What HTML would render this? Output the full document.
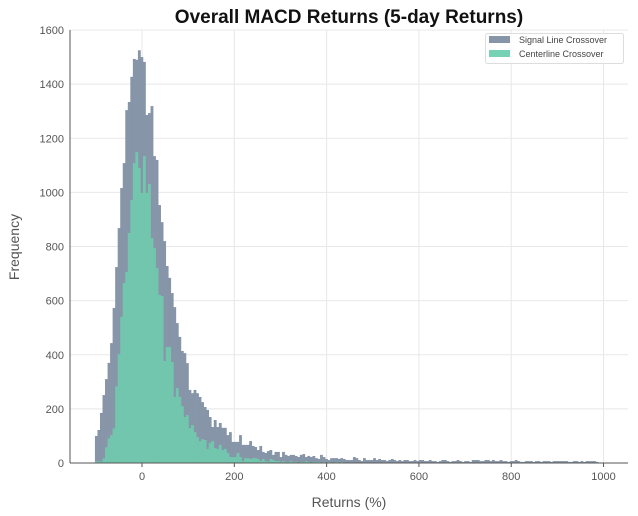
<!DOCTYPE html>
<html><head><meta charset="utf-8"><style>
html,body{margin:0;padding:0;background:#fff;}
svg{display:block;font-family:"Liberation Sans",sans-serif;}
</style></head><body>
<svg id="chart" width="638" height="516">
<text x="349" y="23" text-anchor="middle" font-size="19" font-weight="bold" fill="#111">Overall MACD Returns (5-day Returns)</text>
<g id="grid"></g>
<g id="bars"></g>
<g id="axes"></g>
<text x="349" y="507" text-anchor="middle" font-size="14" fill="#555">Returns (%)</text>
<text x="19" y="247" text-anchor="middle" font-size="14" fill="#555" transform="rotate(-90 19 247)">Frequency</text>
<g>
<rect x="485.5" y="33.5" width="138" height="30" rx="2" fill="#fff" fill-opacity="0.85" stroke="#ddd"/>
<g><rect x="489" y="36" width="21" height="7" fill="#8795a8"/><text x="519" y="43" font-size="9" fill="#444">Signal Line Crossover</text></g>
<g><rect x="489" y="50" width="21" height="7" fill="#76d2b4"/><text x="519" y="57" font-size="9" fill="#444">Centerline Crossover</text></g>
</g>
</svg>
<script>
const binStart = -102;
const binWidth = 5.48;
const signalCounts = [100,122,185,251,310,370,443,573,724,868,1016,1108,1304,1334,1427,1493,1490,1525,1500,1482,1286,1293,1319,1134,1120,953,890,820,728,684,628,576,517,466,414,406,369,270,258,270,258,244,225,207,196,170,133,159,133,
148,130,130,103,114,78,78,78,103,67,67,67,81,63,59,48,63,41,37,44,48,30,41,41,22,41,30,26,30,30,26,22,30,33,22,26,22,26,18,15,30,22,15,11,18,18,18,15,18,15,11,11,11,22,18,11,7,18,11,11,11,18,11,
15,11,11,7,11,15,11,7,11,7,11,11,7,7,11,7,11,11,7,7,11,7,7,4,7,11,11,7,4,7,7,11,7,4,7,7,4,11,11,11,7,7,11,11,7,11,7,7,11,7,7,4,7,7,11,7,4,4,7,7,7,4,7,7,4,7,7,7,4,7,7,7,7,7,7,4,4,7,7,4,7,4,7,7,7,7,4];
const centerCounts = [6,6,5,17,58,91,103,128,283,402,540,665,706,850,972,1108,1149,1090,998,1134,998,1031,831,794,720,621,617,377,429,429,373,244,277,244,210,170,177,129,140,114,96,81,88,85,52,74,81,55,52,
67,48,52,37,22,22,22,37,22,7,18,18,15,18,18,15,7,15,7,4,15,11,7,7,4,7,4,4,7,4,4,0,4,4,7,4,0,4,4,4,0,4,0,4,0,0,4,0,4];
const yTicks = [0,200,400,600,800,1000,1200,1400,1600];
const xTicks = [0,200,400,600,800,1000];

const X0=70,X1=628,Y0=463,Y1=30;
const xMin=-156,xMax=1053,yMax=1600;
const xs=v=>X0+(v-xMin)/(xMax-xMin)*(X1-X0);
const ys=v=>Y0-v/yMax*(Y0-Y1);
const NS="http://www.w3.org/2000/svg";
function mk(tag,attrs,parent){const e=document.createElementNS(NS,tag);for(const k in attrs)e.setAttribute(k,attrs[k]);parent.appendChild(e);return e;}
const grid=document.getElementById('grid'),bars=document.getElementById('bars'),axes=document.getElementById('axes');
yTicks.forEach(t=>{
  const l=mk('line',{x1:X0,x2:X1,y1:ys(t),y2:ys(t),stroke:'#e8e8e8','stroke-width':1},grid);
  
  
  const tx=mk('text',{x:X0-6,y:ys(t)+4,'text-anchor':'end','font-size':11,fill:'#555'},axes);
  tx.textContent=t;
  
  
});
xTicks.forEach(t=>{
  const l=mk('line',{x1:xs(t),x2:xs(t),y1:Y1,y2:Y0,stroke:'#e8e8e8','stroke-width':1},grid);
  
  
  const tk=mk('line',{x1:xs(t),x2:xs(t),y1:Y0,y2:Y0+4,stroke:'#555'},axes);
  
  
  const tx=mk('text',{x:xs(t),y:Y0+17,'text-anchor':'middle','font-size':11,fill:'#555'},axes);
  tx.textContent=t;
  
  
});
function drawSeries(counts,color,name){
  counts.forEach((c,i)=>{
    if(c<=0)return;
    const a=xs(binStart+i*binWidth),b=xs(binStart+(i+1)*binWidth);
    const r=mk('rect',{x:a,y:ys(c),width:b-a+0.3,height:Y0-ys(c),fill:color},bars);
    
    
  });
}
drawSeries(signalCounts,'#8795a8','signal-bar');
drawSeries(centerCounts,'#72c6ad','centerline-bar');
const la=mk('line',{x1:X0,x2:X0,y1:Y1,y2:Y0,stroke:'#555'},axes);


const lb=mk('line',{x1:X0,x2:X1,y1:Y0,y2:Y0,stroke:'#555'},axes);


</script>
</body></html>
